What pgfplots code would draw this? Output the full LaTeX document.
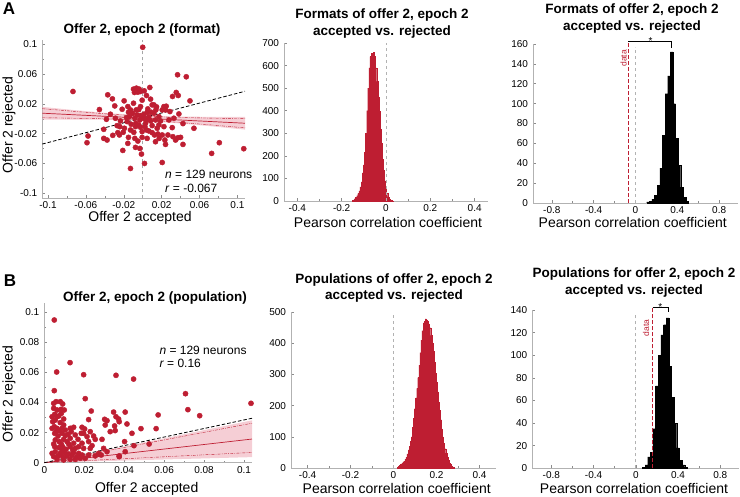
\documentclass[border=0pt]{standalone}
\usepackage{fontspec}
\setmainfont{Liberation Sans}
\usepackage{pgfplots}
\pgfplotsset{compat=1.18}
\definecolor{myred}{RGB}{190,30,50}
\definecolor{myshade}{RGB}{236,165,178}
\pgfplotsset{
  panel/.style={
    scale only axis, clip=false, anchor=south west,
    axis x line*=bottom, axis y line*=left,
    axis line style={-, draw=black!30, line width=0.6pt},
    tick style={draw=black!45, line width=0.5pt},
    tick align=inside, major tick length=3pt, minor tick length=2pt,
    tick label style={font=\fontsize{10}{12}\selectfont},
    yticklabel style={xshift=-1.5pt},
    /pgf/number format/assume math mode=true,
  },
  reddots/.style={only marks, mark=*, color=myred, mark size=2.6pt, mark options={solid, fill=myred, draw=none}},
}
\newcommand{\ttl}{\fontsize{13.5}{16.7}\selectfont\bfseries}
\newcommand{\lbl}{\fontsize{14}{16}\selectfont}
\begin{document}
\begin{tikzpicture}
\useasboundingbox (0pt,0pt) rectangle (740pt,497pt);

% ---------------- A1 scatter ----------------
\begin{axis}[panel, at={(42.3pt,298.7pt)}, width=202.7pt, height=158.3pt,
  xmin=-0.106, xmax=0.108, ymin=-0.107, ymax=0.106,
  xtick={-0.1,-0.06,-0.02,0.02,0.06,0.1},
  xticklabels={-0.1,-0.06,-0.02,0.02,0.06,0.1},
  minor xtick={-0.08,-0.04,0,0.04,0.08},
  ytick={-0.1,-0.06,-0.02,0.02,0.06,0.1},
  yticklabels={-0.1,-0.06,-0.02,0.02,0.06,0.1},
  minor ytick={-0.08,-0.04,0,0.04,0.08}]
\addplot[black!35, dashed, line width=0.6pt] coordinates {(0,-0.107) (0,0.106)};
\addplot[reddots] table {
x y
0.000 0.0962
-0.0736 0.0367
0.0368 0.0592
0.0460 0.0565
-0.0369 0.0322
-0.0320 0.0268
-0.0295 0.0173
-0.0457 0.0124
-0.0196 0.0241
-0.0097 0.0399
-0.0066 0.0412
-0.0037 0.0399
-0.0087 0.0354
-0.0051 0.0358
-0.0023 0.0367
0.0016 0.0376
0.0075 0.0421
0.0040 0.0313
-0.0006 0.0250
0.0083 0.0264
-0.0097 0.0209
-0.0157 0.0164
-0.0217 0.0128
-0.0041 0.0124
-0.0069 0.0119
0.0100 0.0187
0.0118 0.0187
0.0146 0.0160
0.0224 0.0164
0.0248 0.0169
0.0206 0.0119
0.0241 0.0119
0.0315 0.0300
0.0354 0.0354
0.0375 0.0313
0.0499 0.0241
0.0287 0.0097
0.0382 0.0065
-0.0150 0.0088
-0.0108 0.0074
-0.0140 0.0029
-0.0083 0.0007
-0.0023 0.0043
0.0012 0.0061
0.0047 0.0088
0.0090 0.0088
0.0118 0.0074
0.0171 0.0029
-0.0288 0.0007
-0.0383 -0.0007
-0.0235 -0.0029
-0.0164 -0.0038
-0.0073 -0.0061
-0.0041 -0.0083
0.0040 -0.0016
0.0083 -0.0029
0.0425 -0.0065
0.0541 -0.0128
-0.0411 -0.0142
-0.0242 -0.0106
-0.0193 -0.0128
-0.0129 -0.0151
-0.0076 -0.0106
-0.0023 -0.0115
0.0023 -0.0106
0.0040 -0.0151
0.0065 -0.0164
0.0100 -0.0187
0.0125 -0.0218
-0.0577 -0.0232
-0.0588 -0.0322
-0.0411 -0.0264
-0.0376 -0.0286
-0.0316 -0.0223
-0.0263 -0.0187
-0.0246 -0.0218
-0.0150 -0.0250
-0.0083 -0.0264
-0.0051 -0.0300
-0.0006 -0.0250
0.0160 -0.0205
0.0206 -0.0218
0.0234 -0.0286
0.0241 -0.0345
0.0319 -0.0241
0.0372 -0.0255
0.0400 -0.0250
0.0347 -0.0286
0.0425 -0.0345
-0.0210 -0.0426
-0.0076 -0.0385
-0.0030 -0.0399
-0.0013 -0.0475
0.0019 -0.0601
-0.0129 -0.0669
0.0206 -0.0588
0.0728 -0.0466
0.0809 -0.0322
0.1067 -0.0403
0.0171 -0.0083
0.0224 -0.0106
-0.0129 0.0119
-0.0023 0.0164
0.0012 0.0007
0.0065 0.0029
0.0135 -0.0016
-0.0059 0.0052
0.0030 -0.0061
-0.0171 0.0016
0.0100 -0.0092
-0.0094 -0.0182
-0.0006 -0.0173
0.0153 -0.0128
-0.0122 -0.0074
-0.0030 -0.0016
0.0054 0.0133
0.0139 0.0119
0.0188 -0.0029
-0.0206 -0.0182
-0.0270 -0.0092
0.0277 -0.0016
0.0312 -0.0119
0.0329 0.0007
0.0174 -0.0264
-0.0157 -0.0331
0.0047 -0.0264
0.0135 -0.0309
0.0266 -0.0218
-0.0341 0.0061
};
\addplot[fill=myshade, fill opacity=0.55, draw=none] coordinates {
(-0.106,0.0160) (-0.07,0.0114) (-0.035,0.0074) (0,0.0045) (0.035,0.0030) (0.07,0.0026) (0.108,0.0026)
(0.108,-0.0146) (0.07,-0.0098) (0.035,-0.0058) (0,-0.0029) (-0.035,-0.0014) (-0.07,-0.0010) (-0.106,-0.0010)};
\addplot[myred, line width=0.4pt, dash pattern=on 3pt off 1.2pt on 0.8pt off 1.2pt] coordinates {
(-0.106,0.0136) (-0.07,0.0097) (-0.035,0.0062) (0,0.0035) (0.035,0.0018) (0.07,0.0009) (0.108,0.0002)};
\addplot[myred, line width=0.4pt, dash pattern=on 3pt off 1.2pt on 0.8pt off 1.2pt] coordinates {
(-0.106,0.0014) (-0.07,0.0007) (-0.035,-0.0002) (0,-0.0019) (0.035,-0.0046) (0.07,-0.0081) (0.108,-0.0122)};
\addplot[myred, line width=0.7pt] coordinates {(-0.106,0.0075) (0.108,-0.0060)};
\addplot[black, line width=0.8pt, dash pattern=on 3.5pt off 2pt] coordinates {(-0.106,-0.034) (0.108,0.037)};
\end{axis}

% ---------------- A2 histogram ----------------
\begin{axis}[panel, at={(284pt,296pt)}, width=204pt, height=158pt,
  xmin=-0.46, xmax=0.46, ymin=0, ymax=700,
  xtick={-0.4,-0.2,0,0.2,0.4}, xticklabels={-0.4,-0.2,0,0.2,0.4},
  minor xtick={-0.3,-0.1,0.1,0.3},
  ytick={0,100,...,700}, yticklabels={0,100,200,300,400,500,600,700}]
\addplot[ybar, bar width=0.005, fill=myred, draw=myred, line width=0.1pt] table {
x y
-0.15 3
-0.145 5
-0.14 10
-0.135 16
-0.13 24
-0.125 33
-0.12 45
-0.115 62
-0.11 85
-0.105 125
-0.1 160
-0.095 215
-0.09 300
-0.085 400
-0.08 500
-0.075 590
-0.07 640
-0.065 655
-0.06 645
-0.055 658
-0.05 640
-0.045 590
-0.04 530
-0.035 460
-0.03 400
-0.025 320
-0.02 255
-0.015 185
-0.01 135
-0.005 90
0 60
0.005 35
0.01 19
0.015 10
0.02 5
0.025 2
0.03 1
};
\addplot[black!30, dashed, line width=0.6pt] coordinates {(0,0) (0,700)};
\end{axis}

% ---------------- A3 histogram ----------------
\begin{axis}[panel, at={(533pt,294pt)}, width=205pt, height=159pt,
  xmin=-0.98, xmax=0.98, ymin=0, ymax=160,
  xtick={-0.8,-0.4,0,0.4,0.8}, xticklabels={-0.8,-0.4,0,0.4,0.8},
  minor xtick={-0.6,-0.2,0.2,0.6},
  ytick={0,20,...,160}, yticklabels={0,20,40,60,80,100,120,140,160}]
\addplot[ybar, bar width=0.025, fill=black, draw=black, line width=0.2pt] table {
x y
0.12 1
0.145 2
0.17 4
0.195 8
0.22 18
0.245 35
0.27 68
0.295 110
0.32 128
0.345 152
0.37 100
0.395 65
0.42 38
0.445 16
0.47 6
0.495 2
};
\addplot[black!30, dashed, line width=0.6pt] coordinates {(0,0) (0,157)};
\addplot[myred, line width=1pt, dash pattern=on 4pt off 2pt] coordinates {(-0.067,0) (-0.067,162.7)};
\draw[black, line width=0.8pt] (axis cs:-0.067,162.7) -- (axis cs:0.347,162.7) -- (axis cs:0.347,156);
\node[anchor=base, font=\fontsize{10}{12}\selectfont, inner sep=0pt] at (axis cs:0.145,159.5) {*};
\node[rotate=90, text=myred, font=\fontsize{8.5}{10}\selectfont, inner sep=0pt] at (axis cs:-0.115,145.5) {data};
\end{axis}

% ---------------- B1 scatter ----------------
\begin{axis}[panel, at={(44.3pt,34.3pt)}, width=207.7pt, height=159.7pt,
  xmin=0, xmax=0.104, ymin=0, ymax=0.106,
  xtick={0,0.02,0.04,0.06,0.08,0.1}, xticklabels={0,0.02,0.04,0.06,0.08,0.1},
  minor xtick={0.01,0.03,0.05,0.07,0.09},
  ytick={0,0.02,0.04,0.06,0.08,0.1}, yticklabels={0,0.02,0.04,0.06,0.08,0.1},
  minor ytick={0.01,0.03,0.05,0.07,0.09}]
\addplot[reddots] table {
x y
0.0050 0.0947
0.0062 0.0602
0.0129 0.0664
0.0197 0.0584
0.0359 0.0580
0.0447 0.0555
0.0050 0.0478
0.0205 0.0425
0.0707 0.0458
0.1035 0.0394
0.0719 0.0352
0.0778 0.0312
0.0570 0.0317
0.0235 0.0343
0.0347 0.0336
0.0359 0.0305
0.0372 0.0290
0.0405 0.0336
0.0302 0.0288
0.0222 0.0286
0.0047 0.0394
0.0059 0.0405
0.0080 0.0405
0.0092 0.0390
0.0047 0.0361
0.0064 0.0350
0.0084 0.0354
0.0100 0.0350
0.0052 0.0321
0.0072 0.0310
0.0097 0.0290
0.0055 0.0283
0.0080 0.0266
0.0050 0.0239
0.0064 0.0228
0.0097 0.0250
0.0147 0.0235
0.0189 0.0235
0.0202 0.0224
0.0197 0.0195
0.0185 0.0195
0.0155 0.0184
0.0230 0.0206
0.0247 0.0177
0.0255 0.0155
0.0222 0.0140
0.0239 0.0113
0.0189 0.0129
0.0197 0.0095
0.0230 0.0095
0.0289 0.0155
0.0297 0.0095
0.0314 0.0279
0.0305 0.0250
0.0352 0.0244
0.0375 0.0272
0.0414 0.0257
0.0402 0.0140
0.0449 0.0113
0.0484 0.0226
0.0525 0.0124
0.0560 0.0226
0.0052 0.0195
0.0069 0.0177
0.0089 0.0195
0.0105 0.0179
0.0119 0.0188
0.0055 0.0151
0.0075 0.0140
0.0097 0.0155
0.0114 0.0140
0.0130 0.0162
0.0147 0.0129
0.0052 0.0106
0.0072 0.0100
0.0092 0.0106
0.0109 0.0089
0.0130 0.0106
0.0155 0.0095
0.0055 0.0073
0.0080 0.0062
0.0102 0.0067
0.0122 0.0058
0.0147 0.0067
0.0172 0.0062
0.0047 0.0040
0.0069 0.0045
0.0092 0.0040
0.0114 0.0045
0.0139 0.0049
0.0164 0.0040
0.0189 0.0051
0.0222 0.0051
0.0255 0.0045
0.0285 0.0051
0.0375 0.0045
0.0405 0.0073
0.0375 0.0040
0.0039 0.0305
0.0042 0.0272
0.0105 0.0217
0.0130 0.0228
0.0059 0.0206
0.0064 0.0305
0.0085 0.0327
0.0039 0.0228
0.0089 0.0228
0.0075 0.0213
0.0135 0.0206
0.0169 0.0155
0.0047 0.0124
0.0085 0.0124
0.0122 0.0124
0.0142 0.0084
0.0039 0.0062
0.0064 0.0022
0.0097 0.0018
0.0130 0.0022
0.0155 0.0022
0.0180 0.0029
0.0205 0.0029
0.0089 0.0084
0.0172 0.0106
0.0214 0.0173
0.0330 0.0206
0.0355 0.0213
0.0272 0.0062
0.0314 0.0073
0.0439 0.0195
};
\addplot[fill=myshade, fill opacity=0.55, draw=none] coordinates {(0,0) (0.104,0.0281) (0.104,0.0037)};
\addplot[myred, line width=0.4pt, dash pattern=on 3pt off 1.2pt on 0.8pt off 1.2pt] coordinates {(0,0) (0.104,0.0262)};
\addplot[myred, line width=0.4pt, dash pattern=on 3pt off 1.2pt on 0.8pt off 1.2pt] coordinates {(0,0) (0.104,0.0068)};
\addplot[myred, line width=0.7pt] coordinates {(0,0) (0.104,0.0157)};
\addplot[black, line width=0.8pt, dash pattern=on 3.5pt off 2pt] coordinates {(0,0) (0.104,0.0295)};
\end{axis}

% ---------------- B2 histogram ----------------
\begin{axis}[panel, at={(291pt,29pt)}, width=205pt, height=156pt,
  xmin=-0.477, xmax=0.477, ymin=0, ymax=500,
  xtick={-0.4,-0.2,0,0.2,0.4}, xticklabels={-0.4,-0.2,0,0.2,0.4},
  minor xtick={-0.3,-0.1,0.1,0.3},
  ytick={0,100,...,500}, yticklabels={0,100,200,300,400,500}]
\addplot[ybar, bar width=0.005, fill=myred, draw=myred, line width=0.1pt] table {
x y
0.02 3
0.025 5
0.03 9
0.035 12
0.04 15
0.045 18
0.05 22
0.055 28
0.06 34
0.065 45
0.07 58
0.075 70
0.08 85
0.085 100
0.09 130
0.095 160
0.1 190
0.105 225
0.11 255
0.115 290
0.12 330
0.125 370
0.13 410
0.135 440
0.14 465
0.145 470
0.15 478
0.155 475
0.16 470
0.165 462
0.17 450
0.175 425
0.18 400
0.185 375
0.19 340
0.195 305
0.2 275
0.205 245
0.21 210
0.215 185
0.22 155
0.225 125
0.23 100
0.235 80
0.24 62
0.245 48
0.25 36
0.255 25
0.26 17
0.265 12
0.27 7
0.275 4
0.28 2
};
\addplot[black!30, dashed, line width=0.6pt] coordinates {(0,0) (0,500)};
\end{axis}

% ---------------- B3 histogram ----------------
\begin{axis}[panel, at={(532.3pt,28.7pt)}, width=207pt, height=158.3pt,
  xmin=-0.98, xmax=0.98, ymin=0, ymax=140,
  xtick={-0.8,-0.4,0,0.4,0.8}, xticklabels={-0.8,-0.4,0,0.4,0.8},
  minor xtick={-0.6,-0.2,0.2,0.6},
  ytick={0,20,...,140}, yticklabels={0,20,40,60,80,100,120,140}]
\addplot[ybar, bar width=0.025, fill=black, draw=black, line width=0.2pt] table {
x y
0.075 1
0.1 3
0.125 10
0.15 14
0.175 35
0.2 73
0.225 100
0.25 118
0.275 127
0.3 133
0.325 90
0.35 63
0.375 40
0.4 18
0.425 7
0.45 3
0.475 1
};
\addplot[black!30, dashed, line width=0.6pt] coordinates {(0,0) (0,137)};
\addplot[myred, line width=1pt, dash pattern=on 4pt off 2pt] coordinates {(0.16,0) (0.16,142.3)};
\draw[black, line width=0.8pt] (axis cs:0.16,142.3) -- (axis cs:0.305,142.3) -- (axis cs:0.305,138.3);
\node[anchor=base, font=\fontsize{10}{12}\selectfont, inner sep=0pt] at (axis cs:0.232,139.3) {*};
\node[rotate=90, text=myred, font=\fontsize{8.5}{10}\selectfont, inner sep=0pt] at (axis cs:0.097,124) {data};
\end{axis}

% ---------------- texts ----------------
\node[font=\fontsize{17}{20}\selectfont\bfseries] at (9pt,488pt) {A};
\node[font=\fontsize{17}{20}\selectfont\bfseries] at (10pt,216pt) {B};

\node[font=\ttl] at (142pt,467pt) {Offer 2, epoch 2 (format)};
\node[font=\ttl, align=center] at (382pt,473.7pt) {Formats of offer 2, epoch 2\\accepted vs. rejected};
\node[font=\ttl, align=center] at (632pt,478.7pt) {Formats of offer 2, epoch 2\\accepted vs. rejected};
\node[font=\ttl] at (155pt,198.7pt) {Offer 2, epoch 2 (population)};
\node[font=\ttl, align=center] at (394pt,209pt) {Populations of offer 2, epoch 2\\accepted vs. rejected};
\node[font=\ttl, align=center] at (634pt,214.2pt) {Populations for offer 2, epoch 2\\accepted vs. rejected};

\node[font=\lbl] at (140pt,279pt) {Offer 2 accepted};
\node[font=\lbl, rotate=90] at (9pt,372pt) {Offer 2 rejected};
\node[font=\lbl] at (388pt,274.5pt) {Pearson correlation coefficient};
\node[font=\lbl] at (632.7pt,274.5pt) {Pearson correlation coefficient};
\node[font=\lbl] at (146.7pt,8pt) {Offer 2 accepted};
\node[font=\lbl, rotate=90] at (9pt,103pt) {Offer 2 rejected};
\node[font=\lbl] at (396.7pt,8.7pt) {Pearson correlation coefficient};
\node[font=\lbl] at (634pt,8.7pt) {Pearson correlation coefficient};

\node[anchor=west, font=\fontsize{12}{14}\selectfont, inner sep=0pt] at (165pt,323pt) {\textit{n} = 129 neurons};
\node[anchor=west, font=\fontsize{12}{14}\selectfont, inner sep=0pt] at (165pt,308.3pt) {\textit{r} = -0.067};
\node[anchor=west, font=\fontsize{12}{14}\selectfont, inner sep=0pt] at (159.3pt,147pt) {\textit{n} = 129 neurons};
\node[anchor=west, font=\fontsize{12}{14}\selectfont, inner sep=0pt] at (159.3pt,133.7pt) {\textit{r} = 0.16};
\end{tikzpicture}
\end{document}
